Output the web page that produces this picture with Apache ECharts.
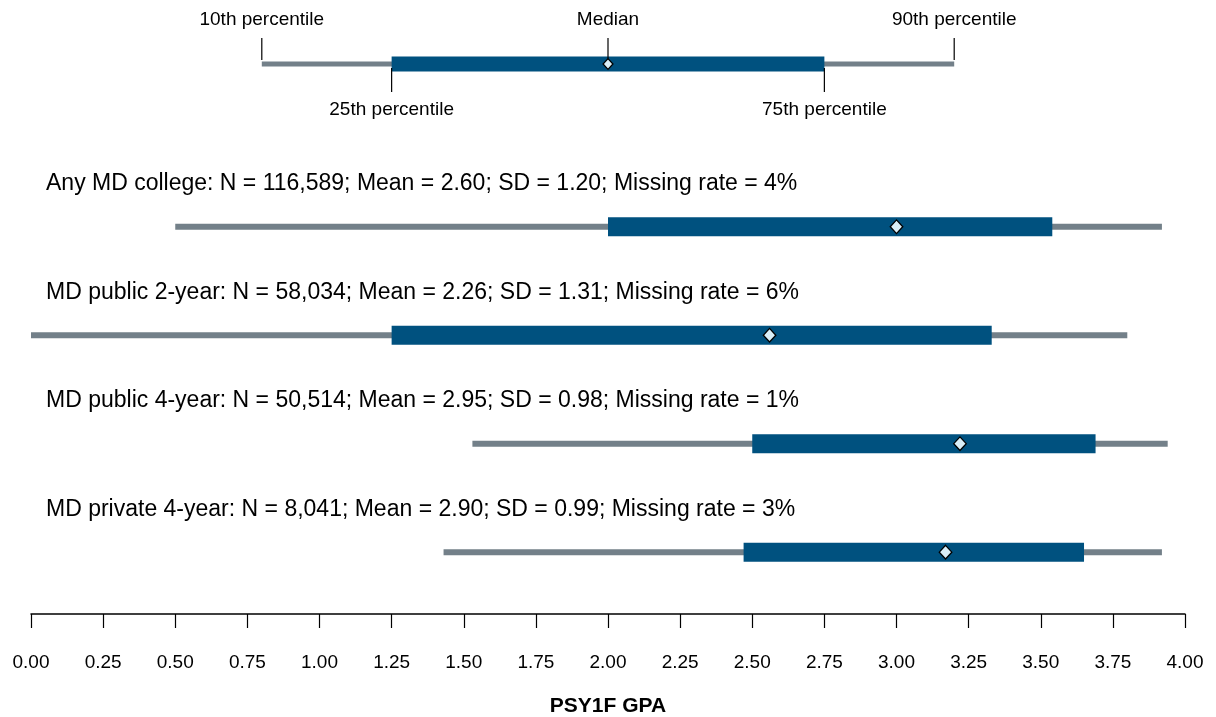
<!DOCTYPE html>
<html>
<head>
<meta charset="utf-8">
<script src="https://cdn.jsdelivr.net/npm/echarts@6/dist/echarts.min.js"></script>
<style>html,body{margin:0;padding:0;background:#fff;}#c{width:1216px;height:717px;}</style>
</head>
<body>
<div id="c"></div>
<script>
// ---- data ----
const groups = ['Any MD college', 'MD public 2-year', 'MD public 4-year', 'MD private 4-year'];
const nValues = ['116,589', '58,034', '50,514', '8,041'];
const means = [2.60, 2.26, 2.95, 2.90];
const sds = [1.20, 1.31, 0.98, 0.99];
const missingRates = [4, 6, 1, 3];
const p10 = [0.50, 0.00, 1.53, 1.43];
const p25 = [2.00, 1.25, 2.50, 2.47];
const p50 = [3.00, 2.56, 3.22, 3.17];
const p75 = [3.54, 3.33, 3.69, 3.65];
const p90 = [3.92, 3.80, 3.94, 3.92];
// legend example box (10th, 25th, median, 75th, 90th)
const legendSample = [0.80, 1.25, 2.00, 2.75, 3.20];
const legendLabels = ['10th percentile', '25th percentile', 'Median', '75th percentile', '90th percentile'];
const xTicks = [0, 0.25, 0.5, 0.75, 1, 1.25, 1.5, 1.75, 2, 2.25, 2.5, 2.75, 3, 3.25, 3.5, 3.75, 4];
const axisTitle = 'PSY1F GPA';

const BOX = '#00517f', WHISK = '#738089', DIA = '#d9eef7';
const FONT = '"Liberation Sans", Arial, sans-serif';

const rows = groups.map((g, i) => [p10[i], p25[i], p50[i], p75[i], p90[i], i + 1.5, i]);
const legendRow = [legendSample.concat([0, -1])];

function boxplot(api, v, boxH, whH) {
  const y = v[5];
  const a = api.coord([v[0], y]), b = api.coord([v[1], y]), m = api.coord([v[2], y]),
        c = api.coord([v[3], y]), d = api.coord([v[4], y]);
  const cy = a[1];
  const ds = boxH * 0.36, dw = boxH * 0.33;
  return [
    {type: 'rect', shape: {x: a[0], y: cy - whH / 2, width: d[0] - a[0], height: whH}, style: {fill: WHISK}},
    {type: 'rect', shape: {x: b[0], y: cy - boxH / 2, width: c[0] - b[0], height: boxH}, style: {fill: BOX}},
    {type: 'polygon', shape: {points: [[m[0], cy - ds], [m[0] + dw, cy], [m[0], cy + ds], [m[0] - dw, cy]]},
      style: {fill: DIA, stroke: '#000', lineWidth: 1.3}, z2: 5}
  ];
}

const chart = echarts.init(document.getElementById('c'), null, {renderer: 'canvas'});
chart.setOption({
  animation: false,
  grid: {left: 31, right: 31, top: 0, bottom: 103, containLabel: false, outerBoundsMode: 'none'},
  xAxis: {
    type: 'value', min: 0, max: 4, interval: 0.25,
    axisLine: {show: true, onZero: false, lineStyle: {color: '#000', width: 1.5}},
    axisTick: {show: true, length: 14, lineStyle: {color: '#000', width: 1.2}},
    axisLabel: {color: '#000', fontSize: 19, fontFamily: FONT, margin: 39,
      formatter: v => v.toFixed(2)},
    splitLine: {show: false},
    name: axisTitle, nameLocation: 'middle', nameGap: 82,
    nameTextStyle: {color: '#000', fontSize: 21, fontWeight: 'bold', fontFamily: FONT}
  },
  yAxis: {type: 'value', min: -0.59, max: 5.07, inverse: true, show: false},
  series: [
    {
      type: 'custom', data: rows, clip: false,
      renderItem: function (params, api) {
        const i = params.dataIndex;
        const v = rows[i];
        const els = boxplot(api, v, 19, 6);
        const a = api.coord([0, v[5]]);
        els.push({type: 'text', x: a[0] + 15, y: a[1] - 43,
          style: {text: groups[i] + ': N = ' + nValues[i] + '; Mean = ' + means[i].toFixed(2) +
            '; SD = ' + sds[i].toFixed(2) + '; Missing rate = ' + missingRates[i] + '%',
            fill: '#000', font: '23px ' + FONT, verticalAlign: 'middle', align: 'left'}});
        return {type: 'group', children: els};
      }
    },
    {
      type: 'custom', data: legendRow, clip: false,
      renderItem: function (params, api) {
        const v = legendRow[0];
        const els = boxplot(api, v, 15, 5);
        const cy = api.coord([v[0], v[5]])[1];
        [0, 1, 2, 3, 4].forEach(k => {
          const x = api.coord([v[k], v[5]])[0];
          const up = (k === 0 || k === 2 || k === 4);
          if (up) {
            els.push({type: 'line', shape: {x1: x, y1: cy - 26, x2: x, y2: cy - 4}, style: {stroke: '#000', lineWidth: 1.2}, z2: 4});
            els.push({type: 'text', x: x, y: cy - 44, style: {text: legendLabels[k], fill: '#000', font: '19px ' + FONT, align: 'center', verticalAlign: 'middle'}});
          } else {
            els.push({type: 'line', shape: {x1: x, y1: cy + 4, x2: x, y2: cy + 28}, style: {stroke: '#000', lineWidth: 1.2}, z2: 4});
            els.push({type: 'text', x: x, y: cy + 46, style: {text: legendLabels[k], fill: '#000', font: '19px ' + FONT, align: 'center', verticalAlign: 'middle'}});
          }
        });
        return {type: 'group', children: els};
      }
    }
  ]
});
</script>
</body>
</html>
